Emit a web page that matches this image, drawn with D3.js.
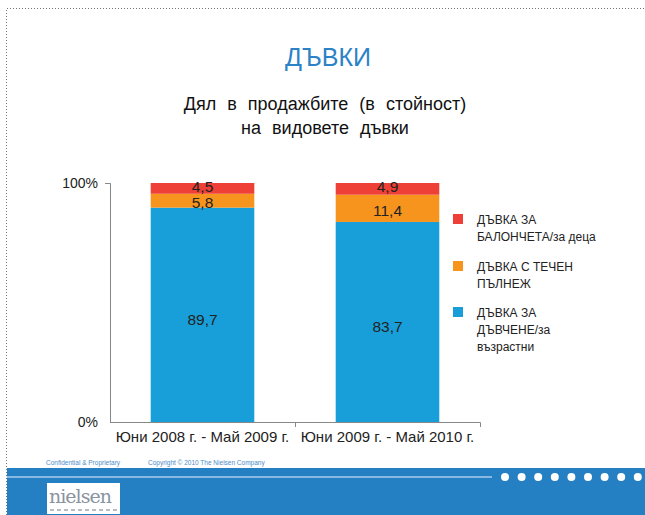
<!DOCTYPE html>
<html lang="bg">
<head>
<meta charset="UTF-8">
<title>ДЪВКИ</title>
<style>
    body { margin: 0; background: #fff; font-family: "Liberation Sans", Arial, sans-serif; }
    svg { display: block; }
</style>
<script src="https://d3js.org/d3.v7.min.js"></script>
</head>
<body>
<svg width="645" height="515"></svg>
<script>
const width = 645, height = 515;

// data
const categories = ["Юни 2008 г. - Май 2009 г.", "Юни 2009 г. - Май 2010 г."];
const seriesNames = ["ДЪВКА ЗА ДЪВЧЕНЕ/за възрастни", "ДЪВКА С ТЕЧЕН ПЪЛНЕЖ", "ДЪВКА ЗА БАЛОНЧЕТА/за деца"];
const chewing = [89.7, 83.7];
const filled = [5.8, 11.4];
const bubble = [4.5, 4.9];
const yTicks = [0, 100];
const legendLines = [["ДЪВКА ЗА", "БАЛОНЧЕТА/за деца"], ["ДЪВКА С ТЕЧЕН", "ПЪЛНЕЖ"], ["ДЪВКА ЗА", "ДЪВЧЕНЕ/за", "възрастни"]];

const colors = ["#189fd9", "#f7941e", "#ee4036"];

const svg = d3.select("svg");

// frame
svg.append("path")
    .attr("d", "M6.5,515 V8.5 H645")
    .attr("fill", "none")
    .attr("stroke", "#777")
    .attr("stroke-width", 1)
    .attr("stroke-dasharray", "1,2");

// titles
svg.append("text").attr("x", 328).attr("y", 66).attr("text-anchor", "middle")
    .attr("font-size", 25).attr("fill", "#2b82c6").text("ДЪВКИ");
svg.append("text").attr("x", 325).attr("y", 110).attr("text-anchor", "middle")
    .attr("font-size", 18).attr("word-spacing", 6).attr("fill", "#111").text("Дял в продажбите (в стойност)");
svg.append("text").attr("x", 325).attr("y", 134).attr("text-anchor", "middle")
    .attr("font-size", 18).attr("word-spacing", 6).attr("fill", "#111").text("на видовете дъвки");

// scales
const x = d3.scaleBand().domain(categories).range([110, 480]).paddingInner(0.44).paddingOuter(0.22);
const y = d3.scaleLinear().domain([0, 100]).range([422, 183]);

const rows = categories.map((c, i) => ({ cat: c, s0: chewing[i], s1: filled[i], s2: bubble[i] }));
const stack = d3.stack().keys(["s0", "s1", "s2"])(rows);

const g = svg.append("g");
stack.forEach((layer, li) => {
    g.selectAll(null).data(layer).enter().append("rect")
        .attr("x", d => x(d.data.cat))
        .attr("width", x.bandwidth())
        .attr("y", d => y(d[1]))
        .attr("height", d => y(d[0]) - y(d[1]))
        .attr("fill", colors[li]);
});

// value labels
const labelOffset = [5, 2, -2];
stack.forEach((layer, li) => {
    g.selectAll(null).data(layer).enter().append("text")
        .attr("x", d => x(d.data.cat) + x.bandwidth() / 2)
        .attr("y", d => (y(d[0]) + y(d[1])) / 2 + labelOffset[li])
        .attr("dy", "0.35em")
        .attr("text-anchor", "middle")
        .attr("font-size", 15.5)
        .attr("fill", "#222")
        .text(d => String(+(d[1] - d[0]).toFixed(1)).replace(".", ","));
});

// y axis
const yAxis = svg.append("g").attr("transform", "translate(110,0)")
    .call(d3.axisLeft(y).tickValues(yTicks).tickSize(5).tickFormat(d => d + "%"));
yAxis.select(".domain").attr("stroke", "#888").attr("d", "M-5,183.5H0.5V422.5");
yAxis.selectAll(".tick line").attr("stroke", "#888");
yAxis.selectAll(".tick").filter(d => d === 0).select("line").remove();
yAxis.selectAll("text").attr("font-size", 14).attr("fill", "#222")
    .attr("font-family", "Liberation Sans, Arial, sans-serif").attr("x", -12);

// x axis
const xAxis = svg.append("g").attr("transform", "translate(0,422)")
    .call(d3.axisBottom(x).tickSize(0).tickPadding(9));
xAxis.select(".domain").attr("stroke", "#888").attr("d", "M110,0.5H480.5V5");
xAxis.selectAll("text").attr("font-size", 15).attr("fill", "#222")
    .attr("font-family", "Liberation Sans, Arial, sans-serif");
xAxis.append("line").attr("x1", 295.5).attr("x2", 295.5).attr("y1", 0).attr("y2", 5).attr("stroke", "#888");

// legend
const legendY = [214, 261, 307];
const legendColors = [colors[2], colors[1], colors[0]];
const legend = svg.append("g");
legendLines.forEach((lines, i) => {
    legend.append("rect").attr("x", 453).attr("y", legendY[i]).attr("width", 10).attr("height", 10)
        .attr("fill", legendColors[i]);
    lines.forEach((t, j) => {
        legend.append("text").attr("x", 477).attr("y", legendY[i] + 10 + j * 17)
            .attr("font-size", 12).attr("fill", "#222")
            .attr("font-family", "Liberation Sans Narrow, Liberation Sans, Arial, sans-serif")
            .text(t);
    });
});

// footer
svg.append("text").attr("x", 46).attr("y", 465).attr("font-size", 6.5).attr("fill", "#4a8cc8")
    .text("Confidential & Proprietary");
svg.append("text").attr("x", 148).attr("y", 465).attr("font-size", 6.5).attr("fill", "#4a8cc8")
    .text("Copyright © 2010 The Nielsen Company");
svg.append("rect").attr("x", 7).attr("y", 468).attr("width", 638).attr("height", 47).attr("fill", "#2580c3");
svg.append("line").attr("x1", 7).attr("x2", 492).attr("y1", 477).attr("y2", 477)
    .attr("stroke", "#a9cdec").attr("stroke-width", 1.5);
svg.append("g").selectAll("circle").data(d3.range(9)).enter().append("circle")
    .attr("cx", d => 505 + d * 16.6).attr("cy", 477).attr("r", 4).attr("fill", "#fff");
svg.append("rect").attr("x", 47).attr("y", 483).attr("width", 73).attr("height", 31).attr("fill", "#fff");
svg.append("text").attr("x", 49).attr("y", 503).attr("font-size", 19).attr("font-family", "DejaVu Serif, serif")
    .attr("fill", "#8a93a0").attr("letter-spacing", -1).text("nielsen");
svg.append("line").attr("x1", 50).attr("x2", 118).attr("y1", 510).attr("y2", 510)
    .attr("stroke", "#b8bcc4").attr("stroke-width", 2).attr("stroke-dasharray", "4,3");
</script>
</body>
</html>
